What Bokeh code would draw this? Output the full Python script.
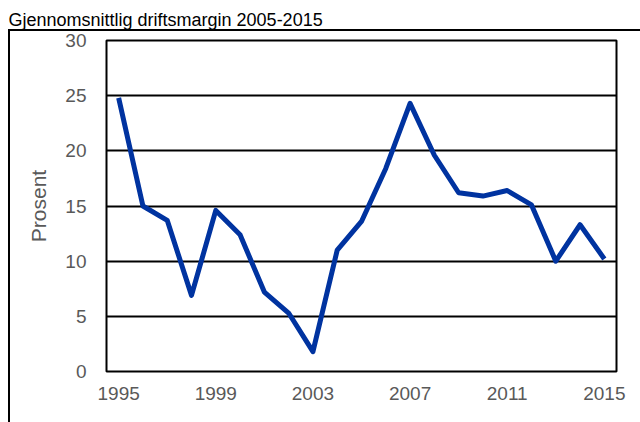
from bokeh.plotting import figure
from bokeh.models import FixedTicker
from bokeh.embed import file_html
from bokeh.resources import INLINE

title_text = "Gjennomsnittlig driftsmargin 2005-2015"
y_label = "Prosent"
years = list(range(1995, 2016))
margin = [24.8, 15.0, 13.7, 6.9, 14.6, 12.4, 7.2, 5.3, 1.8, 11.0, 13.6,
          18.4, 24.3, 19.6, 16.2, 15.9, 16.4, 15.1, 10.0, 13.3, 10.2]
x_ticks = [1995, 1999, 2003, 2007, 2011, 2015]
y_ticks = [0, 5, 10, 15, 20, 25, 30]

FONT = "Liberation Sans"
GREY = "#595959"

p = figure(width=640, height=422, output_backend="svg", toolbar_location=None,
           x_range=(1994.5, 2015.5), y_range=(0, 30),
           min_border_left=106, min_border_right=24, min_border_top=0, min_border_bottom=51)
p.line(years, margin, line_color="#0033A0", line_width=5, line_join="round")

p.title.text = title_text
p.title.align = "left"
p.title.vertical_align = "top"
p.title.text_font = FONT
p.title.text_font_size = "18px"
p.title.text_font_style = "normal"
p.title.text_color = "black"
p.title.offset = -98
p.title.standoff = 18

p.border_fill_color = None
p.background_fill_color = "white"
p.styles = {
    "background": "linear-gradient(#000, #000) 8px 29px / 2px 420px no-repeat, "
                  "linear-gradient(#000, #000) 8px 29px / 640px 2px no-repeat, #fff"
}

p.outline_line_color = "black"
p.outline_line_width = 2
p.outline_line_alpha = 1
p.xgrid.visible = False
p.ygrid.grid_line_color = "black"
p.ygrid.grid_line_width = 2
p.ygrid.ticker = FixedTicker(ticks=y_ticks)

for ax in (p.xaxis, p.yaxis):
    ax.axis_line_color = None
    ax.major_tick_line_color = None
    ax.minor_tick_line_color = None
    ax.major_label_text_font = FONT
    ax.major_label_text_font_size = "19px"
    ax.major_label_text_color = GREY
p.xaxis.ticker = FixedTicker(ticks=x_ticks)
p.yaxis.ticker = FixedTicker(ticks=y_ticks)
p.xaxis.major_label_standoff = 9
p.yaxis.major_label_standoff = 14
p.yaxis.axis_label = y_label
p.yaxis.axis_label_text_font = FONT
p.yaxis.axis_label_text_font_size = "21px"
p.yaxis.axis_label_text_font_style = "normal"
p.yaxis.axis_label_text_color = GREY
p.yaxis.axis_label_standoff = 12

open("out.html", "w").write(file_html(p, INLINE))
